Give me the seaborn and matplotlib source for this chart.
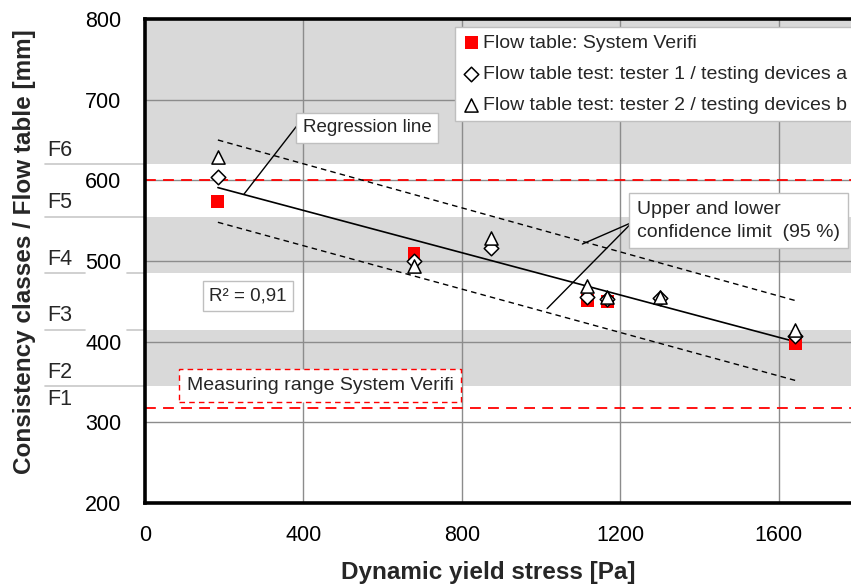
import numpy as np
import pandas as pd
import matplotlib
matplotlib.use("Agg")
import matplotlib.pyplot as plt
import seaborn as sns

# Data
verifi_x = [184, 679, 1116, 1167, 1641]
verifi_y = [574, 509, 451, 450, 398]

tester1_x = [184, 679, 873, 1116, 1167, 1300, 1641]
tester1_y = [604, 500, 516, 455, 453, 454, 407]

tester2_x = [184, 679, 873, 1116, 1167, 1300, 1641]
tester2_y = [629, 494, 529, 469, 455, 455, 414]

reg_x = [184, 1641]
reg_y = [591, 400]
upper_y = [650, 451]
lower_y = [548, 352]

class_bounds = [620, 555, 485, 415, 345]
class_labels = ["F6", "F5", "F4", "F3", "F2"]
gray_bands = [(620, 800), (485, 555), (345, 415)]
range_limits = [600, 318]

sns.set_theme(style="white")
plt.rcParams['font.family'] = ['Liberation Sans', 'DejaVu Sans']

fig = plt.figure(figsize=(8.51, 5.87), dpi=100)
ax = fig.add_axes([145 / 851, 1 - 503 / 587, 706 / 851, 484 / 587])

# class bands and grid
for lo, hi in gray_bands:
    ax.axhspan(lo, hi, color="#d9d9d9", lw=0, zorder=0)
for yv in [300, 400, 500, 600, 700]:
    ax.axhline(yv, color="#8c8c8c", lw=1, zorder=0.5)
for xv in [400, 800, 1200, 1600]:
    ax.axvline(xv, color="#8c8c8c", lw=1, zorder=0.5)

# measuring range limits
for yv in range_limits:
    ax.axhline(yv, color="#ff0000", lw=1.3, ls=(0, (6, 4)), zorder=1)

# regression and confidence limits
ax.plot(reg_x, reg_y, color="black", lw=1.2, zorder=2)
ax.plot(reg_x, upper_y, color="black", lw=1, ls=(0, (4, 3)), zorder=2)
ax.plot(reg_x, lower_y, color="black", lw=1, ls=(0, (4, 3)), zorder=2)

# points
sns.scatterplot(x=verifi_x, y=verifi_y, marker="s", s=85, color="#ff0000",
                edgecolor="none", ax=ax, zorder=3, label="Flow table: System Verifi")
sns.scatterplot(x=tester1_x, y=tester1_y, marker="D", s=55, facecolor="white",
                edgecolor="black", linewidth=1.1, ax=ax, zorder=4,
                label="Flow table test: tester 1 / testing devices a")
sns.scatterplot(x=tester2_x, y=tester2_y, marker="^", s=90, facecolor="white",
                edgecolor="black", linewidth=1.1, ax=ax, zorder=5,
                label="Flow table test: tester 2 / testing devices b")

ax.set_xlim(0, 1782)
ax.set_ylim(200, 800)
ax.set_xticks([0, 400, 800, 1200, 1600])
ax.set_yticks([200, 300, 400, 500, 600, 700, 800])
ax.tick_params(axis="both", length=0, labelsize=15.5, colors="black")
ax.tick_params(axis="x", pad=16)
ax.tick_params(axis="y", pad=17)

for side in ["left", "bottom", "top"]:
    ax.spines[side].set_visible(True)
    ax.spines[side].set_color("black")
    ax.spines[side].set_linewidth(2.6)
ax.spines["right"].set_visible(False)

ax.set_xlabel("Dynamic yield stress [Pa]", fontsize=17.5, fontweight="bold")
ax.set_ylabel("Consistency classes / Flow table [mm]", fontsize=17.5, fontweight="bold")
ax.xaxis.set_label_coords(0.486, -0.12)
ax.yaxis.set_label_coords(-0.155, 0.52)

# class lines and labels left of the axis
tr = ax.get_yaxis_transform()
for yv in class_bounds:
    if yv in (485, 415):
        ax.plot([-0.142, -0.085], [yv, yv], color="#c8c8c8", lw=1.2, transform=tr, clip_on=False)
        ax.plot([-0.025, 0], [yv, yv], color="#c8c8c8", lw=1.2, transform=tr, clip_on=False)
    else:
        ax.plot([-0.142, 0], [yv, yv], color="#c8c8c8", lw=1.2, transform=tr, clip_on=False)
for yv, lab in zip(class_bounds, class_labels):
    ax.text(-0.138, yv + 4, lab, transform=tr, ha="left", va="bottom", fontsize=15.5)
ax.text(-0.138, class_bounds[-1] - 4, "F1", transform=tr, ha="left", va="top", fontsize=15.5)

box = dict(boxstyle="square,pad=0.35", facecolor="white", edgecolor="#bfbfbf", lw=1)

# regression label
ax.plot([250, 384], [583, 668], color="black", lw=1, zorder=6)
ax.text(398, 665, "Regression line", fontsize=13.5, ha="left", va="center", bbox=box, zorder=7)

# confidence label
ax.plot([1230, 1104], [548, 521], color="black", lw=1, zorder=6)
ax.plot([1230, 1015], [548, 441], color="black", lw=1, zorder=6)
ax.text(1242, 550, "Upper and lower\nconfidence limit  (95 %)", fontsize=14,
        ha="left", va="center", bbox=dict(boxstyle="square,pad=0.4", facecolor="white",
                                          edgecolor="#bfbfbf", lw=1), zorder=7, linespacing=1.45)

# R squared
ax.text(260, 457, "R² = 0,91", fontsize=13.5, ha="center", va="center", bbox=box, zorder=7)

# measuring range
ax.text(442, 346, "Measuring range System Verifi", fontsize=14, ha="center", va="center", zorder=7,
        bbox=dict(boxstyle="square,pad=0.4", facecolor="white", edgecolor="#ff0000",
                  lw=1, ls=(0, (4, 3))))

leg = ax.legend(loc="upper left", bbox_to_anchor=(0.439, 0.983), fontsize=14,
                frameon=True, fancybox=False, edgecolor="#bfbfbf", framealpha=1,
                handletextpad=0.1, handlelength=1.0, borderpad=0.35, labelspacing=0.7,
                borderaxespad=0)
leg.set_zorder(10)

fig.savefig("out.png", dpi=100)
